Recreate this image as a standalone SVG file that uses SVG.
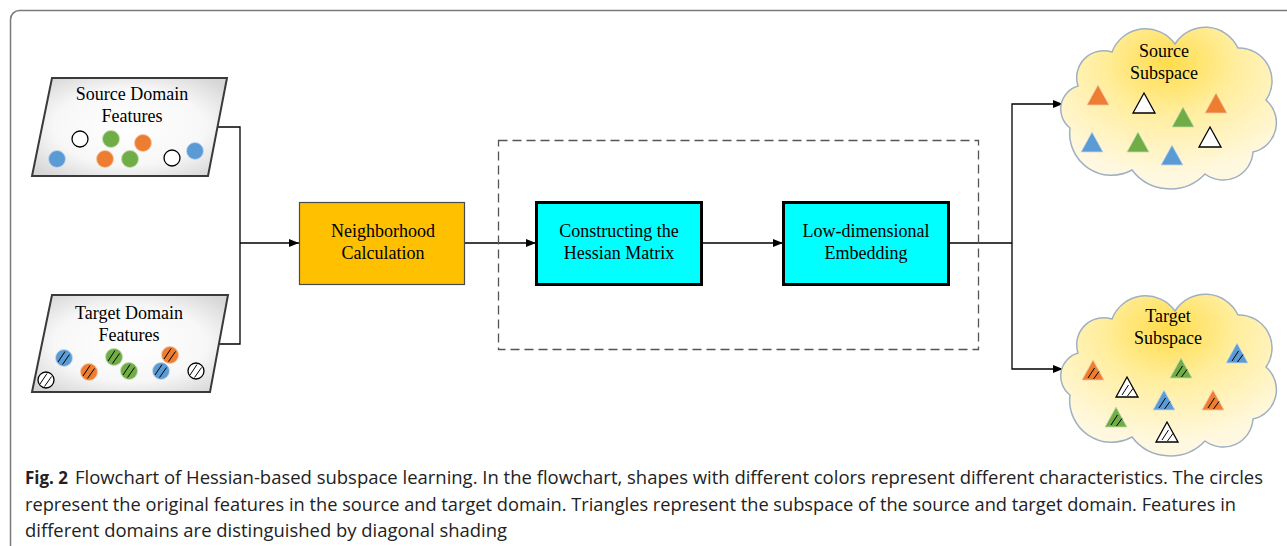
<svg xmlns="http://www.w3.org/2000/svg" width="1287" height="546" viewBox="0 0 1287 546">
<style>
.lbl{font-family:"Liberation Serif","Times New Roman",serif;font-size:18px;fill:#000;text-anchor:middle}
.cap{font-family:"Open Sans","Noto Sans",sans-serif;font-size:17.5px;fill:#222}
.conn{fill:none;stroke:#000;stroke-width:1.3}
.para{fill:url(#pg);stroke:#3a3a3a;stroke-width:2}
.blue{fill:#5B9BD5;stroke:#c9d9ea;stroke-width:0.8}
.orange{fill:#ED7D31;stroke:#f3c9a8;stroke-width:0.8}
.green{fill:#70AD47;stroke:#c3dcb0;stroke-width:0.8}
.white{fill:#fff;stroke:#000;stroke-width:1.3}
.hatch{stroke:#000;stroke-width:1;fill:none}
.cloud{fill:url(#cg);stroke:#9fb0c2;stroke-width:1.5}
</style>
<defs>
<marker id="arr" markerUnits="userSpaceOnUse" markerWidth="11" markerHeight="8" refX="10" refY="4" orient="auto">
<path d="M0,0 L10,4 L0,8 z" fill="#000"/>
</marker>
<radialGradient id="pg" cx="50%" cy="50%" r="65%">
<stop offset="0" stop-color="#ffffff"/>
<stop offset="0.6" stop-color="#f7f7f7"/>
<stop offset="1" stop-color="#d6d6d6"/>
</radialGradient>
<radialGradient id="cg" cx="50%" cy="22%" r="70%">
<stop offset="0" stop-color="#FFDC4A"/>
<stop offset="0.45" stop-color="#FFEE9E"/>
<stop offset="1" stop-color="#FFF8E0"/>
</radialGradient>
<path id="cloudp" d="M10,100 A24,24 0 0 1 18,58 A27,27 0 0 1 52,24 A36,36 0 0 1 115,16 A36,36 0 0 1 178,20 A33,33 0 0 1 206,72 A30,30 0 0 1 193,124 A30,30 0 0 1 145,146 A48,48 0 0 1 72,142 A42,42 0 0 1 10,100 Z"/>
<g id="hc"><line x1="-6" y1="4" x2="1" y2="-6.5"/><line x1="-1.5" y1="6.5" x2="5.5" y2="-3.5"/></g>
<polygon id="tri" points="0,-10 11,10 -11,10"/>
<g id="ht"><line x1="-5" y1="8" x2="1.5" y2="-2"/><line x1="0.5" y1="9" x2="6" y2="1.5"/></g>
</defs>

<rect x="10.5" y="10.5" width="1320" height="580" rx="9" fill="#fff" stroke="#7a7a7a" stroke-width="1.5"/>

<g id="connectors">
<polyline class="conn" points="217.5,127 240,127 240,344 219,344"/>
<line class="conn" x1="240" y1="243" x2="299" y2="243" marker-end="url(#arr)"/>
<line class="conn" x1="465" y1="243" x2="536" y2="243" marker-end="url(#arr)"/>
<line class="conn" x1="702" y1="243" x2="783" y2="243" marker-end="url(#arr)"/>
<polyline class="conn" points="949,243 1012,243"/>
<polyline class="conn" points="1012,243 1012,104 1063,104" marker-end="url(#arr)"/>
<polyline class="conn" points="1012,243 1012,369 1063,369" marker-end="url(#arr)"/>
</g>

<g id="group-box">
<rect x="498.5" y="140.5" width="480" height="209" fill="none" stroke="#555" stroke-width="1.3" stroke-dasharray="9,5"/>
</g>

<g id="source-features">
<polygon class="para" points="52,78 227,78 208,176 32,176"/>
<text class="lbl" x="132" y="100">Source Domain</text>
<text class="lbl" x="132" y="122">Features</text>
<circle class="white" cx="80" cy="139" r="8"/>
<circle class="green" cx="111" cy="139" r="8.5"/>
<circle class="orange" cx="143" cy="143" r="8.5"/>
<circle class="blue" cx="57" cy="159" r="8.5"/>
<circle class="orange" cx="105" cy="159" r="8.5"/>
<circle class="green" cx="130" cy="159" r="8.5"/>
<circle class="white" cx="172" cy="158" r="8"/>
<circle class="blue" cx="195" cy="151" r="8.5"/>
</g>

<g id="target-features">
<polygon class="para" points="52,295 228,295 210,392 32,392"/>
<text class="lbl" x="129" y="319">Target Domain</text>
<text class="lbl" x="129" y="341">Features</text>
<circle class="blue" cx="64" cy="358" r="8.5"/><use href="#hc" class="hatch" x="64" y="358"/>
<circle class="orange" cx="89" cy="372" r="8.5"/><use href="#hc" class="hatch" x="89" y="372"/>
<circle class="green" cx="114" cy="357" r="8.5"/><use href="#hc" class="hatch" x="114" y="357"/>
<circle class="green" cx="129" cy="371" r="8.5"/><use href="#hc" class="hatch" x="129" y="371"/>
<circle class="orange" cx="170" cy="355" r="8.5"/><use href="#hc" class="hatch" x="170" y="355"/>
<circle class="blue" cx="161" cy="371" r="8.5"/><use href="#hc" class="hatch" x="161" y="371"/>
<circle class="white" cx="196" cy="371" r="8"/><use href="#hc" class="hatch" x="196" y="371"/>
<circle class="white" cx="46" cy="380" r="8"/><use href="#hc" class="hatch" x="46" y="380"/>
</g>

<g id="neighborhood">
<rect x="299.5" y="202.5" width="165" height="82" fill="#FFC000" stroke="#4a4a4a" stroke-width="1.2"/>
<text class="lbl" x="383" y="237">Neighborhood</text>
<text class="lbl" x="383" y="259">Calculation</text>
</g>

<g id="hessian">
<rect x="536.5" y="202.5" width="165" height="82" fill="#00FFFF" stroke="#000" stroke-width="3"/>
<text class="lbl" x="619" y="237">Constructing the</text>
<text class="lbl" x="619" y="259">Hessian Matrix</text>
</g>

<g id="embedding">
<rect x="783.5" y="202.5" width="165" height="82" fill="#00FFFF" stroke="#000" stroke-width="3"/>
<text class="lbl" x="866" y="237">Low-dimensional</text>
<text class="lbl" x="866" y="259">Embedding</text>
</g>

<g id="source-subspace">
<use href="#cloudp" class="cloud" x="1060" y="28"/>
<text class="lbl" x="1164" y="57">Source</text>
<text class="lbl" x="1164" y="79">Subspace</text>
<use href="#tri" class="orange" x="1098" y="95"/>
<use href="#tri" class="white" x="1144" y="103"/>
<use href="#tri" class="green" x="1183" y="117"/>
<use href="#tri" class="orange" x="1216" y="103"/>
<use href="#tri" class="blue" x="1092" y="142"/>
<use href="#tri" class="green" x="1138" y="142"/>
<use href="#tri" class="blue" x="1172" y="155"/>
<use href="#tri" class="white" x="1210" y="137"/>
</g>

<g id="target-subspace">
<use href="#cloudp" class="cloud" x="1060" y="295"/>
<text class="lbl" x="1168" y="322">Target</text>
<text class="lbl" x="1168" y="344">Subspace</text>
<use href="#tri" class="orange" x="1093" y="370"/><use href="#ht" class="hatch" x="1093" y="370"/>
<use href="#tri" class="white" x="1127" y="387"/><use href="#ht" class="hatch" x="1127" y="387"/>
<use href="#tri" class="green" x="1181" y="368"/><use href="#ht" class="hatch" x="1181" y="368"/>
<use href="#tri" class="blue" x="1237" y="353"/><use href="#ht" class="hatch" x="1237" y="353"/>
<use href="#tri" class="blue" x="1164" y="400"/><use href="#ht" class="hatch" x="1164" y="400"/>
<use href="#tri" class="orange" x="1213" y="400"/><use href="#ht" class="hatch" x="1213" y="400"/>
<use href="#tri" class="green" x="1116" y="417"/><use href="#ht" class="hatch" x="1116" y="417"/>
<use href="#tri" class="white" x="1167" y="432"/><use href="#ht" class="hatch" x="1167" y="432"/>
</g>

<g id="caption">
<text class="cap" x="25" y="484" font-weight="bold" textLength="43" lengthAdjust="spacingAndGlyphs">Fig. 2</text>
<text class="cap" x="75" y="484" textLength="1188" lengthAdjust="spacingAndGlyphs">Flowchart of Hessian-based subspace learning. In the flowchart, shapes with different colors represent different characteristics. The circles</text>
<text class="cap" x="25" y="511" textLength="1211" lengthAdjust="spacingAndGlyphs">represent the original features in the source and target domain. Triangles represent the subspace of the source and target domain. Features in</text>
<text class="cap" x="25" y="537" textLength="482" lengthAdjust="spacingAndGlyphs">different domains are distinguished by diagonal shading</text>
</g>
</svg>
